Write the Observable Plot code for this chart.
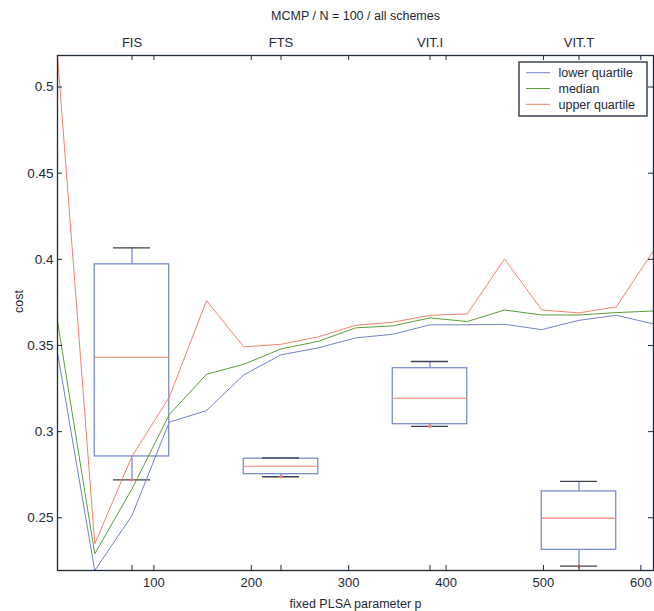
<!DOCTYPE html>
<html>
<head>
<meta charset="utf-8">
<script src="https://cdn.jsdelivr.net/npm/d3@7"></script>
<script src="https://cdn.jsdelivr.net/npm/@observablehq/plot@0.6"></script>
<style>
  body { margin: 0; background: #fff; }
  #chart svg { font-family: "Liberation Sans", Arial, sans-serif; background: #fff; }
</style>
</head>
<body>
<div id="chart"></div>
<script>
// ---- data ----
const pValues = [1, 39.25, 77.5, 115.75, 154, 192.25, 230.5, 268.75, 307, 345.25, 383.5, 421.75, 460, 498.25, 536.5, 574.75, 613];
const lowerQuartile = [0.346, 0.2194, 0.2513, 0.3055, 0.3122, 0.3329, 0.3446, 0.3486, 0.3544, 0.3565, 0.362, 0.362, 0.3623, 0.3592, 0.3646, 0.3675, 0.3625];
const medianLine    = [0.364, 0.2291, 0.2668, 0.3099, 0.3333, 0.3391, 0.348, 0.3524, 0.3602, 0.3614, 0.366, 0.3639, 0.3706, 0.3677, 0.3677, 0.3691, 0.370];
const upperQuartile = [0.518, 0.2349, 0.2857, 0.320, 0.376, 0.3492, 0.3507, 0.355, 0.3617, 0.3635, 0.3675, 0.3683, 0.4002, 0.3706, 0.3689, 0.3724, 0.405];

const schemes     = ["FIS", "FTS", "VIT.I", "VIT.T"];
const schemePos   = [77.5, 230.5, 383.5, 536.5];
const whiskerHigh = [0.4066, 0.2848, 0.3407, 0.2711];
const boxQ3       = [0.3971, 0.2843, 0.3368, 0.2653];
const boxMedian   = [0.3432, 0.2799, 0.3194, 0.2498];
const boxQ1       = [0.2856, 0.2753, 0.3043, 0.2314];
const whiskerLow  = [0.2720, 0.2738, 0.3031, 0.2219];

const xTicks = [100, 200, 300, 400, 500, 600];
const yTicks = [0.25, 0.3, 0.35, 0.4, 0.45, 0.5];
const seriesNames = ["lower quartile", "median", "upper quartile"];

const title = "MCMP / N = 100 / all schemes";
const xLabel = "fixed PLSA parameter p";
const yLabel = "cost";

// ---- styles ----
const BLUE = "#6f83cb", GREEN = "#5b9e35", RED = "#f2806e", DARK = "#1f2835";
const colors = [BLUE, GREEN, RED];
const W = 654, H = 611, mL = 57, mR = 1, mT = 55, mB = 41;
const innerW = W - mL - mR, innerH = H - mT - mB;
const halfBox = 38.25, halfCap = 19;

const boxes = schemes.map((s, i) => ({
  scheme: s, pos: schemePos[i], hi: whiskerHigh[i], q3: boxQ3[i],
  med: boxMedian[i], q1: boxQ1[i], lo: whiskerLow[i]
}));
const series = [lowerQuartile, medianLine, upperQuartile].map((vals, k) =>
  pValues.map((p, i) => ({p, v: vals[i], k})));
const allXTicks = [...xTicks, ...schemePos];

const chart = Plot.plot({
  width: W, height: H,
  marginLeft: mL, marginRight: mR, marginTop: mT, marginBottom: mB,
  style: {fontSize: "13px", color: DARK, overflow: "visible"},
  x: {domain: [1, 613]},
  y: {domain: [0.2194, 0.5183]},
  marks: [
    // boxes
    Plot.ruleX(boxes, {x: "pos", y1: "q3", y2: "hi", stroke: BLUE, strokeWidth: 1.2}),
    Plot.ruleX(boxes, {x: "pos", y1: "lo", y2: "q1", stroke: BLUE, strokeWidth: 1.2}),
    Plot.rect(boxes, {x1: d => d.pos - halfBox, x2: d => d.pos + halfBox, y1: "q1", y2: "q3",
      fill: "none", stroke: BLUE, strokeWidth: 1.2}),
    Plot.ruleY(boxes, {y: "med", x1: d => d.pos - halfBox, x2: d => d.pos + halfBox, stroke: RED, strokeWidth: 1.1}),
    Plot.ruleY(boxes, {y: "hi", x1: d => d.pos - halfCap, x2: d => d.pos + halfCap, stroke: "#3a414c", strokeWidth: 1.3}),
    Plot.ruleY(boxes, {y: "lo", x1: d => d.pos - halfCap, x2: d => d.pos + halfCap, stroke: "#3a414c", strokeWidth: 1.3}),
    Plot.dot(boxes, {x: "pos", y: "lo", r: 1.8, fill: RED, stroke: "none"}),
    // lines
    ...series.map((s, k) => Plot.line(s, {x: "p", y: "v", stroke: colors[k], strokeWidth: 1})),
    // frame and inward ticks
    Plot.frame({stroke: DARK, strokeWidth: 1.3}),
    Plot.ruleX(allXTicks, {x: d => d, insetBottom: innerH - 5, stroke: DARK}),
    Plot.ruleX(allXTicks, {x: d => d, insetTop: innerH - 5, stroke: DARK}),
    Plot.ruleY(yTicks, {y: d => d, insetRight: innerW - 5, stroke: DARK}),
    Plot.ruleY(yTicks, {y: d => d, insetLeft: innerW - 5, stroke: DARK}),
    // axes labels
    Plot.axisX(xTicks, {anchor: "bottom", tickSize: 0, tickPadding: 7, label: null, fill: DARK, fontSize: 13}),
    Plot.axisY(yTicks, {anchor: "left", tickSize: 0, tickPadding: 4, label: null, tickFormat: d => String(d), fill: DARK, fontSize: 13.5}),
    Plot.text(boxes, {x: "pos", text: "scheme", frameAnchor: "top", dy: -9, lineAnchor: "bottom", fill: DARK, fontSize: 13}),
    Plot.text([title], {text: d => d, frameAnchor: "top", dy: -40, lineAnchor: "middle", fill: DARK, fontSize: 12.5}),
    Plot.text([xLabel], {text: d => d, frameAnchor: "bottom", dy: 33, lineAnchor: "middle", fill: DARK, fontSize: 12.5}),
    Plot.text([yLabel], {text: d => d, frameAnchor: "left", dx: -39, rotate: -90, lineAnchor: "middle", fill: DARK, fontSize: 12.5})
  ]
});

// legend box (top right, inside the frame)
const svg = d3.select(chart);
const lg = svg.append("g").attr("transform", "translate(519,62)").attr("text-anchor", "start");
lg.append("rect").attr("width", 128).attr("height", 54).attr("fill", "#fff").attr("stroke", DARK).attr("stroke-width", 1.3);
seriesNames.forEach((name, i) => {
  const y = 10.7 + i * 15.8;
  lg.append("line").attr("x1", 7).attr("x2", 31).attr("y1", y).attr("y2", y).attr("stroke", colors[i]).attr("stroke-width", 1);
  lg.append("text").attr("x", 39.5).attr("y", y).attr("dy", "0.35em").attr("text-anchor", "start")
    .attr("fill", DARK).attr("font-size", 12.5).text(name);
});

document.getElementById("chart").appendChild(chart);
</script>
</body>
</html>
